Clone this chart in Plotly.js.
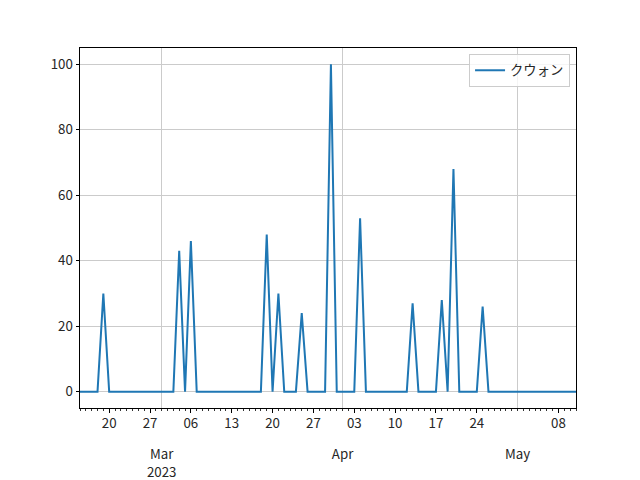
<!DOCTYPE html>
<html>
<head>
<meta charset="utf-8">
<script src="https://cdn.plot.ly/plotly-3.0.1.min.js"></script>
<style>html,body{margin:0;padding:0;background:#fff;}#chart{width:640px;height:480px;}</style>
</head>
<body>
<div id="chart"></div>
<script>
// Daily series, 2023-02-15 .. 2023-05-11
const startDate = '2023-02-15';
const endDate = '2023-05-11';
const seriesName = 'クウォン';
// Feb 15..28
const febValues = [0,0,0,0,30,0,0,0,0,0,0,0,0,0];
// Mar 1..31
const marValues = [0,0,0,43,0,46,0,0,0,0,0,0,0,0,0,0,0,0,48,0,30,0,0,0,24,0,0,0,0,100,0];
// Apr 1..30
const aprValues = [0,0,0,53,0,0,0,0,0,0,0,0,27,0,0,0,0,28,0,68,0,0,0,0,26,0,0,0,0,0];
// May 1..11
const mayValues = [0,0,0,0,0,0,0,0,0,0,0];

const weekTickDates = ['2023-02-20','2023-02-27','2023-03-06','2023-03-13','2023-03-20','2023-03-27','2023-04-03','2023-04-10','2023-04-17','2023-04-24','2023-05-08'];
const weekTickLabels = ['20','27','06','13','20','27','03','10','17','24','08'];
const monthTickDates = ['2023-03-01','2023-04-01','2023-05-01'];
const monthTickLabels = ['Mar<br>2023','Apr','May'];
const yTicks = [0,20,40,60,80,100];

const values = febValues.concat(marValues, aprValues, mayValues);
const dates = [];
{
  const d = new Date(startDate + 'T00:00:00Z');
  for (let i = 0; i < values.length; i++) {
    dates.push(d.toISOString().slice(0,10));
    d.setUTCDate(d.getUTCDate() + 1);
  }
}

const font = {family: '"Noto Sans CJK JP", "DejaVu Sans", sans-serif', size: 13.3, color: '#262626'};
const gridColor = '#cbcbcb';

const trace = {
  x: dates, y: values, type: 'scatter', mode: 'lines', name: seriesName,
  line: {color: '#1f77b4', width: 2}
};

const layout = {
  width: 640, height: 480,
  margin: {l: 80, r: 64, t: 48, b: 72},
  paper_bgcolor: '#ffffff', plot_bgcolor: '#ffffff',
  font: font,
  showlegend: true,
  legend: {
    x: 0.988, y: 0.983, xanchor: 'right', yanchor: 'top',
    bgcolor: 'rgba(255,255,255,0.8)', bordercolor: '#cccccc', borderwidth: 1,
    font: font, itemwidth: 30, tracegroupgap: 0
  },
  xaxis: {
    type: 'date', range: [startDate, endDate],
    tickmode: 'array', tickvals: weekTickDates, ticktext: weekTickLabels,
    ticks: 'outside', ticklen: 3.5, tickwidth: 1, tickcolor: '#000',
    showgrid: false, zeroline: false,
    showline: true, linecolor: '#000', linewidth: 1, mirror: true,
    tickfont: font,
    minor: {tick0: startDate, dtick: 86400000, ticks: 'outside', ticklen: 2, tickwidth: 0.8, tickcolor: '#000', showgrid: false}
  },
  xaxis2: {
    type: 'date', overlaying: 'x', matches: 'x', anchor: 'y', side: 'bottom',
    range: [startDate, endDate],
    tickmode: 'array', tickvals: monthTickDates, ticktext: monthTickLabels,
    ticks: '', showgrid: true, gridcolor: gridColor, gridwidth: 1,
    zeroline: false, showline: false,
    tickfont: font, ticklabelstandoff: 37
  },
  yaxis: {
    range: [-5, 105], tickmode: 'array', tickvals: yTicks,
    ticks: 'outside', ticklen: 3.5, tickwidth: 1, tickcolor: '#000',
    showgrid: true, gridcolor: gridColor, gridwidth: 1,
    zeroline: false, showline: true, linecolor: '#000', linewidth: 1, mirror: true,
    tickfont: font
  }
};

const dummy = {x: [dates[0]], y: [null], xaxis: 'x2', yaxis: 'y', showlegend: false, hoverinfo: 'skip', mode: 'lines'};

Plotly.newPlot('chart', [dummy, trace], layout, {staticPlot: true, displayModeBar: false});
</script>
</body>
</html>
